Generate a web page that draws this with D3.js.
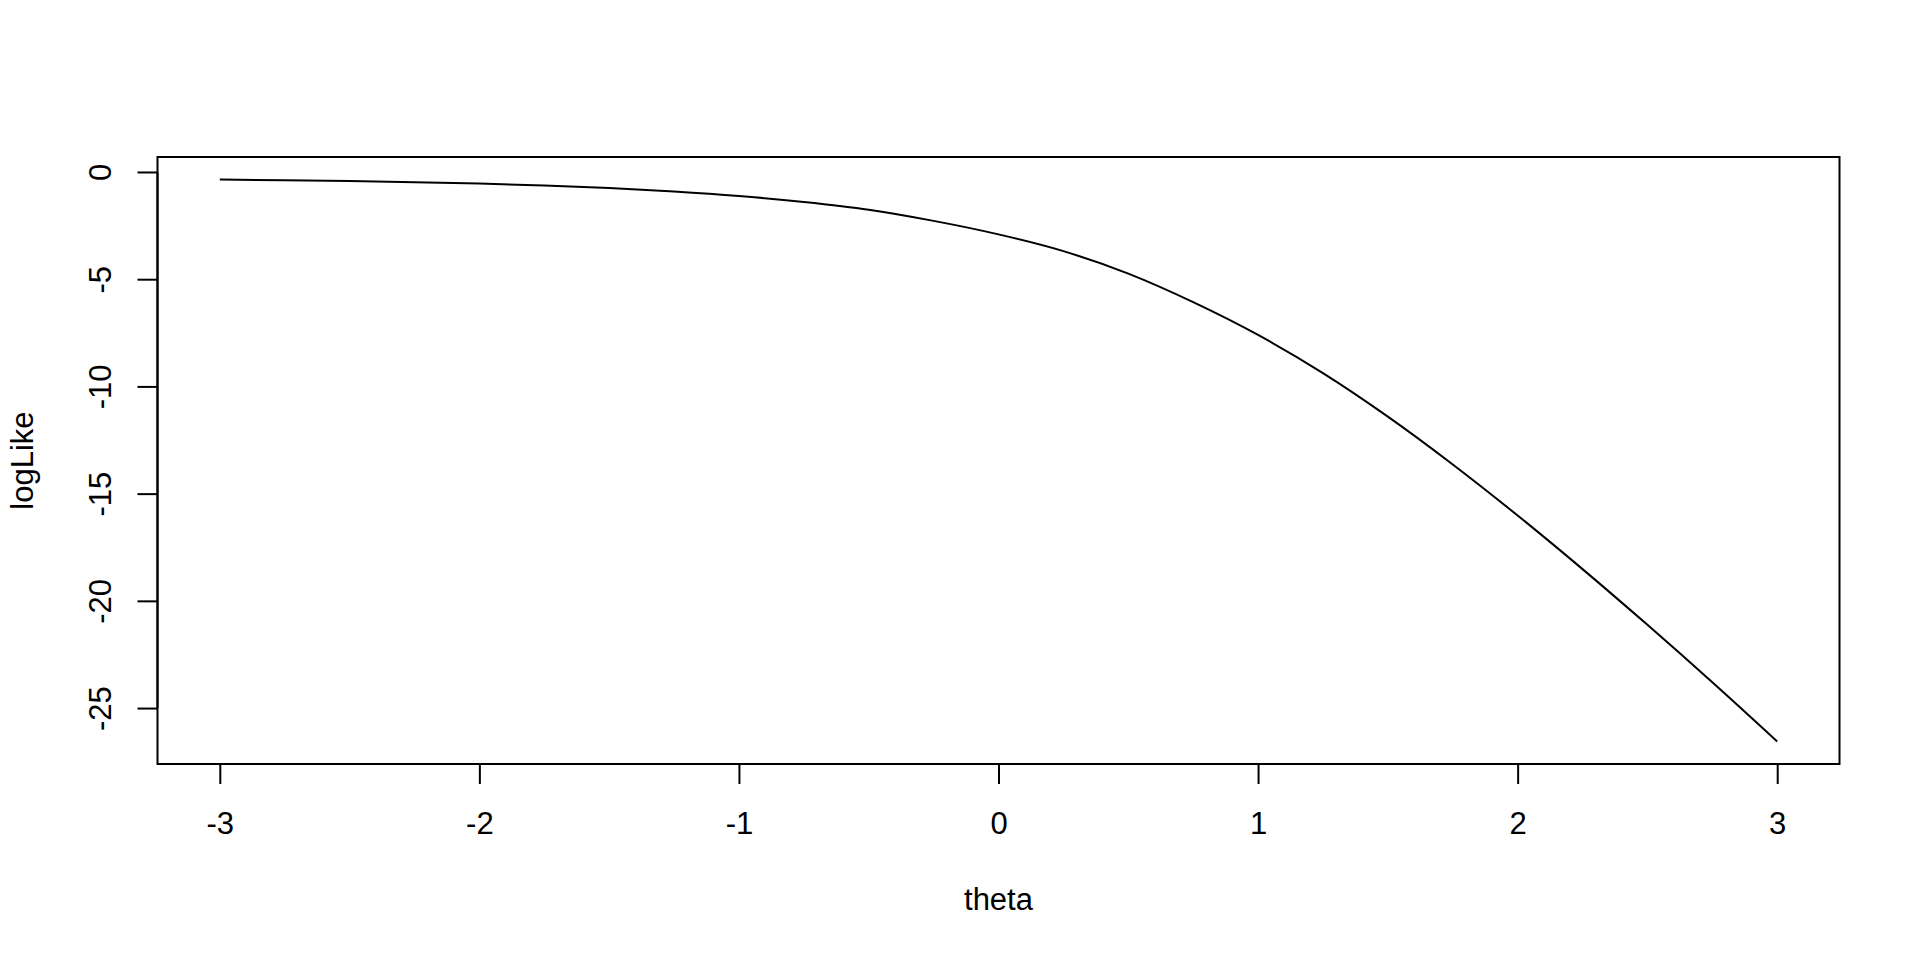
<!DOCTYPE html>
<html>
<head>
<meta charset="utf-8">
<script src="https://cdn.jsdelivr.net/npm/d3@7"></script>
<style>
	body { margin: 0; background: #fff; }
	svg text { font-family: "Liberation Sans", Arial, sans-serif; font-size: 31px; fill: #000; }
</style>
</head>
<body>
<svg id="plot" width="1920" height="960"></svg>
<script>
// values
var theta = [-3, -2.75, -2.5, -2.25, -2, -1.75, -1.5, -1.25, -1, -0.75, -0.5, -0.25,
	0, 0.25, 0.5, 0.75, 1, 1.25, 1.5, 1.75, 2, 2.25, 2.5, 2.75, 3];
var logLike = [-0.35, -0.385, -0.425, -0.475, -0.54, -0.63, -0.75, -0.91, -1.12, -1.40, -1.76, -2.28,
	-2.91, -3.69, -4.74, -6.07, -7.60, -9.38, -11.41, -13.64, -16.02, -18.52, -21.12, -23.80, -26.56];
var xTicks = [-3, -2, -1, 0, 1, 2, 3];
var yTicks = [0, -5, -10, -15, -20, -25];

var box = { left: 157.5, right: 1839.5, top: 157, bottom: 764 };

var svg = d3.select('#plot');

// R style: data range padded by 4% on each side
function pad(ext) {
	var d = (ext[1] - ext[0]) * 0.04;
	return [ext[0] - d, ext[1] + d];
}

var x = d3.scaleLinear()
	.domain(pad(d3.extent(theta)))
	.range([box.left, box.right]);

var y = d3.scaleLinear()
	.domain(pad(d3.extent(logLike)))
	.range([box.bottom, box.top]);

var line = d3.line()
	.x(function(d, i) { return x(theta[i]); })
	.y(function(d) { return y(d); })
	.curve(d3.curveMonotoneX);

// the curve
svg.append('path')
	.datum(logLike)
	.attr('d', line)
	.attr('fill', 'none')
	.attr('stroke', '#000')
	.attr('stroke-width', 2);

// frame
svg.append('rect')
	.attr('x', box.left)
	.attr('y', box.top)
	.attr('width', box.right - box.left)
	.attr('height', box.bottom - box.top)
	.attr('fill', 'none')
	.attr('stroke', '#000')
	.attr('stroke-width', 2);

// x axis, only spanning the tick range
var xAxis = svg.append('g')
	.attr('transform', 'translate(0,' + box.bottom + ')')
	.call(d3.axisBottom(x).tickValues(xTicks).tickSize(20).tickPadding(0)
		.tickFormat(function(d) { return d; }));
xAxis.select('.domain')
	.attr('d', 'M' + x(xTicks[0]) + ',0H' + x(xTicks[xTicks.length - 1]))
	.attr('stroke-width', 2);
xAxis.selectAll('.tick line').attr('stroke-width', 2);
xAxis.selectAll('.tick text')
	.attr('y', 70)
	.attr('dy', null)
	.style('font-size', '31px')
	.style('font-family', '"Liberation Sans", Arial, sans-serif');

// y axis, labels rotated like R's default
var yAxis = svg.append('g')
	.attr('transform', 'translate(' + box.left + ',0)')
	.call(d3.axisLeft(y).tickValues(yTicks).tickSize(20)
		.tickFormat(function(d) { return d; }));
yAxis.select('.domain')
	.attr('d', 'M0,' + y(yTicks[yTicks.length - 1]) + 'V' + y(yTicks[0]))
	.attr('stroke-width', 2);
yAxis.selectAll('.tick line').attr('stroke-width', 2);
yAxis.selectAll('.tick text')
	.attr('x', null)
	.attr('dy', null)
	.attr('text-anchor', 'middle')
	.attr('transform', 'translate(' + (110.5 - box.left) + ',0) rotate(-90)')
	.style('font-size', '31px')
	.style('font-family', '"Liberation Sans", Arial, sans-serif');

// axis titles
svg.append('text')
	.attr('x', (box.left + box.right) / 2)
	.attr('y', 910)
	.attr('text-anchor', 'middle')
	.text('theta');

svg.append('text')
	.attr('transform', 'translate(33,' + (box.top + box.bottom) / 2 + ') rotate(-90)')
	.attr('text-anchor', 'middle')
	.text('logLike');
</script>
</body>
</html>
